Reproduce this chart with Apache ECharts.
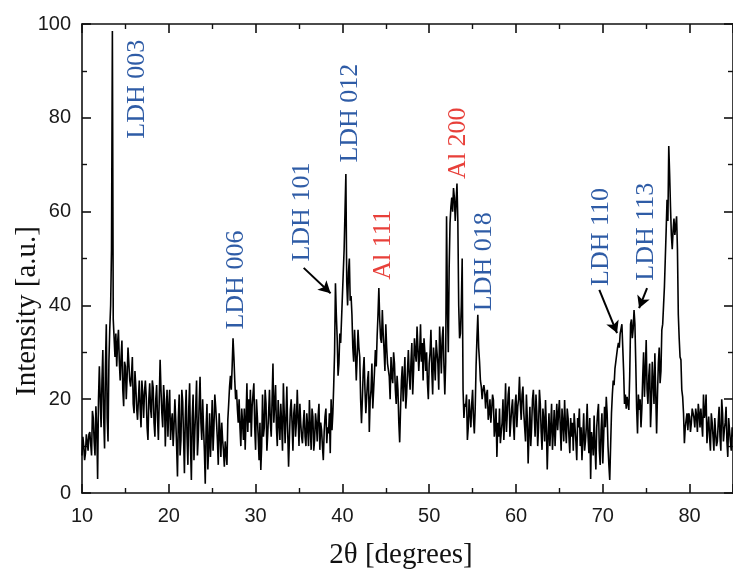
<!DOCTYPE html>
<html><head><meta charset="utf-8">
<script src="https://cdn.jsdelivr.net/npm/echarts/dist/echarts.min.js"></script>
<style>html,body{margin:0;padding:0;background:#fff}#c{width:733px;height:577px}</style>
</head><body><div id="c"></div>
<script>
// 2θ sampling grid of the scan: main points every 0.2°, in-between points at +0.1°
const angleStart = 10;
const angleStep = 0.2;

// Intensity [a.u.], at 10.0, 10.2, 10.4 ...
const intensity10to20 = [8,10,8.5,11,12.5,10.5,17.5,11,18.5,3,
  27,14,30.5,9.5,36,11,35,52,37,29,
  27,34.8,24,32.5,18.5,27,24.8,27.6,22.7,29,
  17,22.7,15.6,24,14,21,21.5,20.5,11.3,23.4,
  16,22.5,12,23,11.3,28.4,17,23,9.9,22];
const intensity20to30 = [18.4,11.3,17,14,15.6,3.5,21,11.3,19.5,4.2,
  22,6,23.4,2.8,21,13,24,12,24.8,11.3,
  14,2,19,10,7.7,19.8,14,18.4,11.3,17,
  7.7,11.3,5.6,8.5,15.6,22.7,22,33,24,22,
  15,14,18,11.3,9.2,23.4,20,22,18.4,23.4];
const intensity30to40 = [9.2,16.3,7,4.9,21,14,19,12.7,22,12,
  27.6,19,14,19.8,11.3,14.9,23.4,10.6,22.7,5.6,
  17.7,14.9,17,12,22,10,14.9,10.6,17.7,10,
  14,19.8,9.2,16.3,11.3,14.9,16.3,9.2,13.4,7,
  16.3,10.6,12.7,8.5,13.4,23,44.7,33,27.6,32];
const intensity40to50 = [42,52,68,40,50,42,31,34.8,24,34.8,
  29,14.9,26,22,20.5,26,19.8,27.6,22,30.5,
  33.3,43.7,33,39,30.5,36,27.6,24.8,29,23.4,
  27.6,19,22,10.8,24,19.5,29,21,30.5,22,
  32,26,30,35.5,26,36,32,33,26,23.4];
const intensity50to60 = [27.6,34.8,21,28,32.6,27.6,35.5,25.5,35.5,21,
  59,30,57.5,63,65,58,66,40,34,50,
  16,18.4,11.3,20,14,22,12.7,27,38,28,
  22.7,22,21.5,21,15.6,20,17.7,19.8,14,7.7,
  12,10.6,15,11.3,23.4,17,22.7,15,20,11.3];
const intensity60to70 = [21,18.4,24.8,15.6,22.7,14,21,6.3,18.4,14,
  22,12,17,14,19,9.2,15.6,19.8,5,17,
  14,9.2,17.7,14.9,13.4,19.8,9,15,19.8,10.6,
  16,8.5,12,9,14,7,14,10,7,17,
  11,19,8.5,3,11,16.5,5,17,9,13.4];
const intensity70to80 = [6.3,18.4,20.5,10,2.8,17,24,26.5,29.5,32,
  34,36,26,21,20.5,17.7,36,33,39,27.6,
  12.7,17.7,14,24.8,20.5,32.6,19,27.6,19,23.4,
  29.8,12.7,27.6,23.4,34.8,40,50,62.5,74,61,
  52,58.5,57,52,33,28.4,20.5,10.6,15.6,13.4];
const intensity80to85 = [16.3,14.9,17,14,16.5,19,14,14.9,21,17,
  10.6,16.3,9,15,9,12.7,11,18.4,9,17,
  13.4,18.4,7.7,13.4,9,12];

// Intensity at the in-between angles 10.1, 10.3, 10.5 ...
const intensityMid10to20 = [12,7,12.5,9,13,8,16,8,14,20,
  20,24,16,27,16,28,40,98.5,33,34,
  32,28,29,22,28,20,31,24,25,19,
  26,18,20,18,24,16,24,14,20,18,
  24,15,20,16,20,22,14,20,17,12];
const intensityMid20to30 = [22,15,10,20,10,16,8,22,12,16,
  12,18,10,16,7,18,8,19,15,20,
  9,14,5,17,13,9,21,15,6,13,
  15,9,11,6,19,25,27,29,20,18,
  20,10,15,18,16,13,15,12,21,14];
const intensityMid30to40 = [20,12,15,10,12,22,9,17,15,20,
  15,23,10,15,19,9,17,16,13,12,
  20,9,19,15,16,19,12,15,12,17,
  10,14,18,9,17,11,19,15,10,13,
  18,14,17,20,17,30,38,25,34,37];
const intensityMid40to50 = [47,60,45,47,41,38,28,30,29,31,
  20,20,29,17,24,13,22,18,26,27,
  38,37,32,34,26,31,28,20,25,30,
  22,25,15,18,27,24,18,26,25,28,
  21,33,28,31,30,28,24,30,30,20];
const intensityMid50to60 = [30,26,31,24,30,22,31,33,27,28,
  40,48,61,60,63,62,58,33,40,22,
  19,21,14,17,19,16,18,33,31,24,
  20,23,18,22,17,15,21,12,18,15,
  18,13,20,16,13,21,12,18,15,19];
const intensityMid60to70 = [14,20,19,21,17,11,16,13,10,20,
  17,21,10,22,13,18,11,14,12,10,
  19,13,10,19,17,14,18,11,14,18,
  12,16,15,17,11,16,18,14,12,9,
  14,12,16,13,8,10,14,19,6,17];
const intensityMid70to80 = [12,14,17,6,10,21,23,28,31,31,
  35,31,19,18,19,25,37,35,36,18,
  21,20,18,30,26,22,25,14,28,19,
  21,21,31,26,36,44,56,58,68,55,
  56,55,59,38,29,22,17,14,17,17];
const intensityMid80to85 = [13,18,16,18,13,17,18,12,16,21,
  14,12,17,12,16,10,15,12,20,11,
  15,11,16,11,14];

// Axis ticks
const xTickStart = 10, xTickEnd = 85, xTickStep = 10;
const yTickStart = 0, yTickEnd = 100, yTickStep = 20;

// Reflection labels
const reflectionNames = ['LDH 003','LDH 006','LDH 101','LDH 012','Al 111','Al 200','LDH 018','LDH 110','LDH 113'];
const reflectionKinds = ['LDH','LDH','LDH','LDH','Al','Al','LDH','LDH','LDH'];
const labelAnchors = [[16.39,86.1],[27.74,45.4],[35.31,59.9],[40.93,81.0],[44.71,52.9],[53.31,74.6],[56.29,49.3],[69.82,54.6],[74.98,55.7]];
// Arrows from label to peak: [[from],[to]] in data units
const arrowLinks = [[[35.54,48.0],[38.64,42.6]],[[69.6,43.3],[71.64,34.1]],[[75.1,43.7],[74.18,39.4]]];

const intensityMain = [].concat(intensity10to20,intensity20to30,intensity30to40,intensity40to50,
  intensity50to60,intensity60to70,intensity70to80,intensity80to85);
const intensityMid = [].concat(intensityMid10to20,intensityMid20to30,intensityMid30to40,intensityMid40to50,
  intensityMid50to60,intensityMid60to70,intensityMid70to80,intensityMid80to85);
const seriesData = [];
intensityMain.forEach((v,i)=>{
  seriesData.push([+(angleStart+i*angleStep).toFixed(1), v]);
  if (i < intensityMid.length) seriesData.push([+(angleStart+i*angleStep+angleStep/2).toFixed(1), intensityMid[i]]);
});

const chart = echarts.init(document.getElementById('c'), null, {renderer:'canvas'});
const tickFont = {fontFamily:'Liberation Sans', fontSize:20, color:'#1a1a1a'};
const axisLine = {show:true, onZero:false, lineStyle:{color:'#111', width:1.6}};
function xAx(pos, labels){
  return {type:'value', position:pos, min:xTickStart, max:xTickEnd, interval:xTickStep,
    axisLine:axisLine, axisTick:{show:true, inside:true, length:9, lineStyle:{color:'#111',width:1.6}},
    minorTick:{show:true, splitNumber:2, length:5, lineStyle:{color:'#111',width:1.4}},
    splitLine:{show:false}, minorSplitLine:{show:false},
    axisLabel:Object.assign({show:labels, margin:13, showMaxLabel:false}, tickFont)};
}
function yAx(pos, labels){
  return {type:'value', position:pos, min:yTickStart, max:yTickEnd, interval:yTickStep,
    axisLine:axisLine, axisTick:{show:true, inside:true, length:9, lineStyle:{color:'#111',width:1.6}},
    minorTick:{show:true, splitNumber:2, length:5, lineStyle:{color:'#111',width:1.4}},
    splitLine:{show:false}, minorSplitLine:{show:false},
    axisLabel:Object.assign({show:labels, margin:11}, tickFont)};
}
chart.setOption({
  animation:false,
  backgroundColor:'#fff',
  grid:{left:82, top:24, width:654, height:469},
  xAxis:[xAx('bottom',true), xAx('top',false)],
  yAxis:[yAx('left',true), yAx('right',false)],
  series:[{
    type:'line', data:seriesData, showSymbol:false, symbol:'none',
    lineStyle:{color:'#000', width:1.6}, clip:true,
    markLine:{silent:true, symbol:['none','arrow'], symbolSize:[10,12],
      label:{show:false},
      lineStyle:{color:'#000', width:2, type:'solid'},
      data:arrowLinks.map(a=>[{coord:a[0]},{coord:a[1]}])}
  }]
});

const graphics = [];
reflectionNames.forEach((t,i)=>{
  const p = chart.convertToPixel({xAxisIndex:0, yAxisIndex:0}, labelAnchors[i]);
  graphics.push({type:'text', x:p[0], y:p[1], rotation:Math.PI/2,
    style:{text:t, x:0, y:0, align:'center', verticalAlign:'middle',
      font:'26px "Liberation Serif"', fill: reflectionKinds[i]==='Al' ? '#e8403a' : '#2f5ca6'}});
});
graphics.push({type:'text', x:401, y:555, style:{text:'2θ [degrees]', x:0, y:0, align:'center', verticalAlign:'middle', font:'29px "Liberation Serif"', fill:'#111'}});
graphics.push({type:'text', x:27, y:311, rotation:Math.PI/2, style:{text:'Intensity [a.u.]', x:0, y:0, align:'center', verticalAlign:'middle', font:'29px "Liberation Serif"', fill:'#111'}});
chart.setOption({graphic:graphics});
</script></body></html>
